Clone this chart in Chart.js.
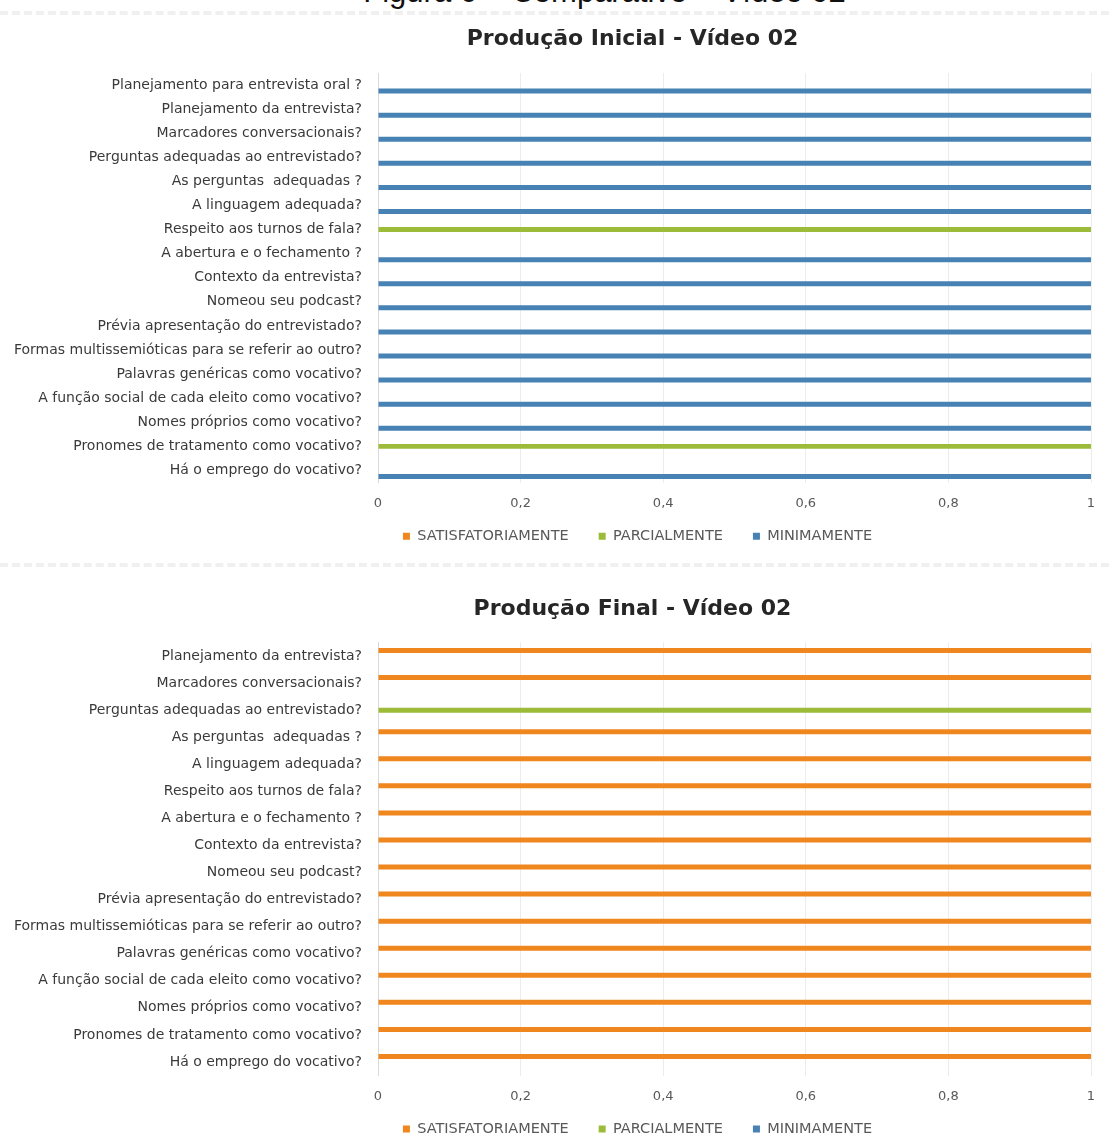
<!DOCTYPE html>
<html><head><meta charset="utf-8">
<script src="https://cdn.jsdelivr.net/npm/chart.js@4/dist/chart.umd.min.js"></script>
<style>
html,body{margin:0;padding:0;background:#fff;overflow:hidden;width:1109px;height:1137px;}
#fig{position:absolute;left:50px;width:1109px;top:-24px;text-align:center;font-family:"Liberation Sans",Arial,sans-serif;font-size:31px;line-height:31px;color:#111;white-space:nowrap;}
.sep{position:absolute;left:0;width:1109px;height:0;border-top:4px dashed #f0f0f0;}
.box{position:absolute;left:0;width:1109px;}
</style></head><body>
<div id="fig">Figura 6 – Comparativo – Vídeo 02</div>
<div class="sep" style="top:11px"></div>
<div class="sep" style="top:563px"></div>
<div class="box" style="top:0;height:567px"><canvas id="c1"></canvas></div>
<div class="box" style="top:580px;height:580px"><canvas id="c2"></canvas></div>
<script>
const seriesNames = ['SATISFATORIAMENTE', 'PARCIALMENTE', 'MINIMAMENTE'];
const xTickLabels = ['0', '0,2', '0,4', '0,6', '0,8', '1'];

const categoriesInicial = [
  'Planejamento para entrevista oral ?',
  'Planejamento da entrevista?',
  'Marcadores conversacionais?',
  'Perguntas adequadas ao entrevistado?',
  'As perguntas  adequadas ?',
  'A linguagem adequada?',
  'Respeito aos turnos de fala?',
  'A abertura e o fechamento ?',
  'Contexto da entrevista?',
  'Nomeou seu podcast?',
  'Prévia apresentação do entrevistado?',
  'Formas multissemióticas para se referir ao outro?',
  'Palavras genéricas como vocativo?',
  'A função social de cada eleito como vocativo?',
  'Nomes próprios como vocativo?',
  'Pronomes de tratamento como vocativo?',
  'Há o emprego do vocativo?'
];
const satisfatoriamenteInicial = [0,0,0,0,0,0,0,0,0,0,0,0,0,0,0,0,0];
const parcialmenteInicial      = [0,0,0,0,0,0,1,0,0,0,0,0,0,0,0,1,0];
const minimamenteInicial       = [1,1,1,1,1,1,0,1,1,1,1,1,1,1,1,0,1];

const categoriesFinal = [
  'Planejamento da entrevista?',
  'Marcadores conversacionais?',
  'Perguntas adequadas ao entrevistado?',
  'As perguntas  adequadas ?',
  'A linguagem adequada?',
  'Respeito aos turnos de fala?',
  'A abertura e o fechamento ?',
  'Contexto da entrevista?',
  'Nomeou seu podcast?',
  'Prévia apresentação do entrevistado?',
  'Formas multissemióticas para se referir ao outro?',
  'Palavras genéricas como vocativo?',
  'A função social de cada eleito como vocativo?',
  'Nomes próprios como vocativo?',
  'Pronomes de tratamento como vocativo?',
  'Há o emprego do vocativo?'
];
const satisfatoriamenteFinal = [1,1,0,1,1,1,1,1,1,1,1,1,1,1,1,1];
const parcialmenteFinal      = [0,0,1,0,0,0,0,0,0,0,0,0,0,0,0,0];
const minimamenteFinal       = [0,0,0,0,0,0,0,0,0,0,0,0,0,0,0,0];

const seriesColors = ['#f0861e', '#9cbb38', '#4682b4'];
const FONT = '"DejaVu Sans", "Open Sans", sans-serif';

// Shift the title and legend boxes horizontally/vertically after layout
const shiftPlugin = {
  id: 'shift',
  afterLayout(chart, args, o) {
    const t = chart.titleBlock, l = chart.legend;
    if (t) { t.left += o.titleDx; t.right += o.titleDx; }
    if (l) { l.left += o.legendDx; l.right += o.legendDx; l.top += o.legendDy; l.bottom += o.legendDy; }
  }
};

function makeChart(id, title, labels, s, p, m, g) {
  const values = [s, p, m];
  return new Chart(document.getElementById(id), {
    type: 'bar',
    data: {
      labels: labels,
      datasets: seriesNames.map((name, i) => ({
        label: name,
        data: values[i],
        backgroundColor: seriesColors[i],
        borderWidth: 0,
        categoryPercentage: g.catPct,
        barPercentage: g.barPct
      }))
    },
    plugins: [shiftPlugin],
    options: {
      indexAxis: 'y',
      responsive: true,
      maintainAspectRatio: false,
      animation: false,
      layout: { padding: { left: 0, right: 18, top: 0, bottom: 0 } },
      plugins: {
        shift: { titleDx: 87, legendDx: 92, legendDy: g.legendDy },
        title: {
          display: true, text: title, color: '#262626',
          font: { family: FONT, size: 22, weight: 'bold' },
          padding: g.titlePad
        },
        legend: {
          position: 'bottom',
          labels: {
            boxWidth: 7, boxHeight: 7, padding: 30, color: '#595959',
            font: { family: FONT, size: 14.5 }
          }
        },
        tooltip: { enabled: false }
      },
      scales: {
        x: {
          min: 0, max: 1,
          ticks: {
            stepSize: 0.2, padding: 13, color: '#595959',
            font: { family: FONT, size: 13 },
            callback: (v, i) => xTickLabels[i]
          },
          grid: { color: '#ececec', drawTicks: false },
          border: { display: false },
          afterFit: sc => { sc.height = 30; }
        },
        y: {
          ticks: {
            autoSkip: false, padding: 16, color: '#3a3a3a',
            font: { family: FONT, size: 14 }
          },
          grid: { display: false, drawTicks: false },
          border: { display: true, color: '#d9d9d9' },
          afterFit: sc => { sc.width = 378; }
        }
      }
    }
  });
}

makeChart('c1', 'Produção Inicial - Vídeo 02', categoriesInicial,
  satisfatoriamenteInicial, parcialmenteInicial, minimamenteInicial,
  { catPct: 0.748, barPct: 0.83, titlePad: { top: 26, bottom: 20.6 }, legendDy: -13.5 });

makeChart('c2', 'Produção Final - Vídeo 02', categoriesFinal,
  satisfatoriamenteFinal, parcialmenteFinal, minimamenteFinal,
  { catPct: 0.61, barPct: 0.91, titlePad: { top: 16, bottom: 20.1 }, legendDy: -13.75 });
</script>
</body></html>
